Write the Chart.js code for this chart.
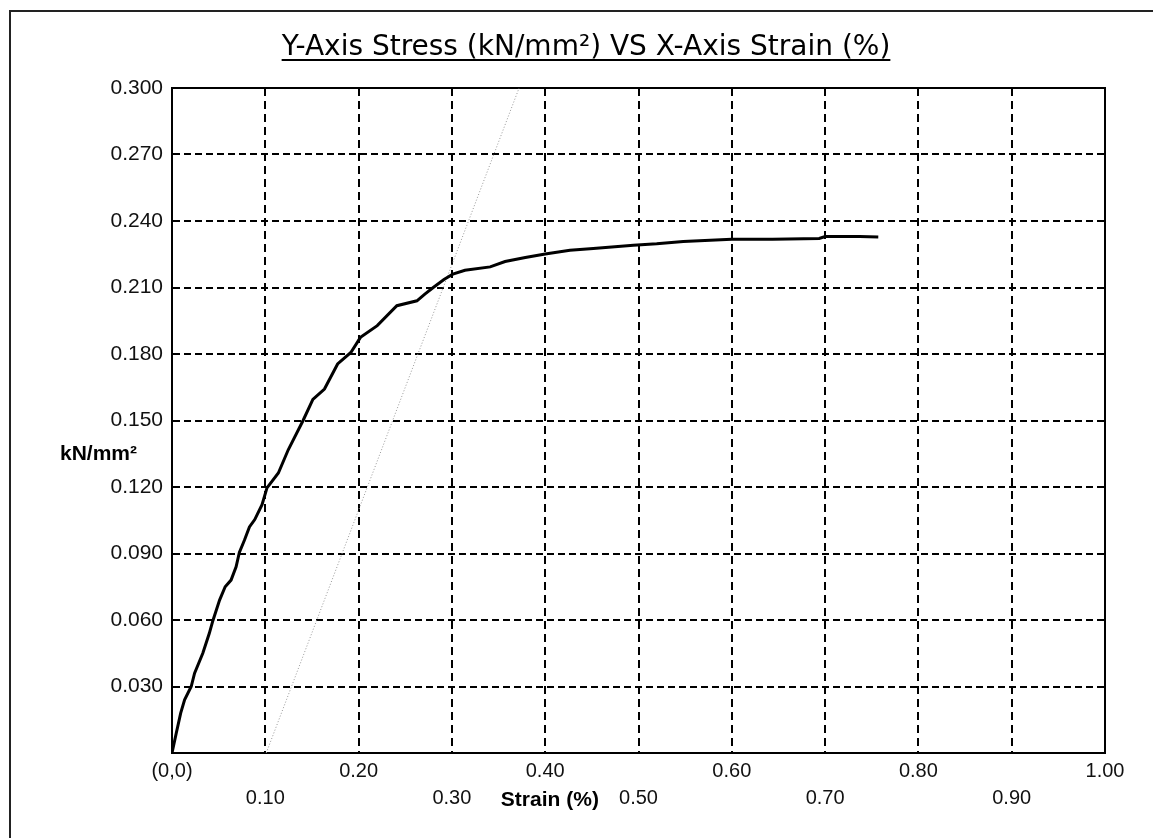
<!DOCTYPE html>
<html>
<head>
<meta charset="utf-8">
<script src="https://cdn.jsdelivr.net/npm/chart.js@4.4.1/dist/chart.umd.min.js"></script>
<style>
  html, body { margin: 0; padding: 0; background: #fff; }
  #wrap { width: 1153px; height: 838px; position: relative; }
</style>
</head>
<body>
<div id="wrap"><canvas id="c" width="1153" height="838"></canvas></div>
<script>
// ---- data ----
const strainX = [0, 0.0046, 0.0093, 0.0135, 0.0206, 0.0242, 0.033, 0.040, 0.0438, 0.051, 0.057, 0.0633, 0.0687, 0.0722, 0.0776, 0.083, 0.0887, 0.0918, 0.0965, 0.1018, 0.114, 0.1246, 0.1405, 0.151, 0.1634, 0.1775, 0.1917, 0.202, 0.220, 0.241, 0.2625, 0.271, 0.280, 0.2915, 0.301, 0.314, 0.341, 0.357, 0.3787, 0.40, 0.4265, 0.4515, 0.4945, 0.5195, 0.548, 0.60, 0.6436, 0.6937, 0.70, 0.737, 0.757];
const stressY = [0, 0.009, 0.018, 0.024, 0.030, 0.036, 0.045, 0.054, 0.0597, 0.069, 0.075, 0.078, 0.084, 0.0905, 0.096, 0.102, 0.1053, 0.108, 0.112, 0.1196, 0.1263, 0.1368, 0.150, 0.1595, 0.1642, 0.1755, 0.1807, 0.1875, 0.1928, 0.2018, 0.204, 0.207, 0.210, 0.2136, 0.216, 0.2178, 0.2193, 0.2217, 0.2235, 0.2251, 0.2268, 0.2276, 0.2291, 0.2297, 0.2308, 0.2318, 0.2318, 0.2321, 0.233, 0.233, 0.2328];
const offsetLineX = [0.101, 0.372];
const offsetLineY = [0, 0.300];
const xTickLabels = ['(0,0)', '0.10', '0.20', '0.30', '0.40', '0.50', '0.60', '0.70', '0.80', '0.90', '1.00'];
const yTickLabels = ['', '0.030', '0.060', '0.090', '0.120', '0.150', '0.180', '0.210', '0.240', '0.270', '0.300'];
const titleText = 'Y-Axis Stress (kN/mm\u00B2) VS X-Axis Strain (%)';
const yUnitText = 'kN/mm\u00B2';
const xUnitText = 'Strain (%)';

const mainPts = strainX.map((x, i) => ({ x: x, y: stressY[i] }));
const offsetPts = offsetLineX.map((x, i) => ({ x: x, y: offsetLineY[i] }));

const decor = {
  id: 'decor',
  beforeDraw(chart) {
    const ctx = chart.ctx;
    ctx.save();
    ctx.fillStyle = '#fff';
    ctx.fillRect(0, 0, chart.width, chart.height);
    // outer frame
    ctx.strokeStyle = '#222';
    ctx.lineWidth = 2;
    ctx.beginPath();
    ctx.moveTo(10, 848);
    ctx.lineTo(10, 11);
    ctx.lineTo(1160, 11);
    ctx.stroke();
    ctx.restore();
  },
  beforeDatasetsDraw(chart) {
    const a = chart.chartArea, ctx = chart.ctx;
    ctx.save();
    ctx.setLineDash([]);
    ctx.strokeStyle = '#000';
    ctx.lineWidth = 2;
    ctx.strokeRect(a.left, a.top, a.right - a.left, a.bottom - a.top);
    ctx.restore();
  },
  afterDraw(chart) {
    const ctx = chart.ctx;
    const xs = chart.scales.x, ys = chart.scales.y;
    ctx.save();
    ctx.fillStyle = '#000';
    // title with underline
    ctx.font = '28px "DejaVu Sans"';
    ctx.textAlign = 'center';
    ctx.textBaseline = 'alphabetic';
    const tx = 586, ty = 55;
    ctx.fillText(titleText, tx, ty);
    const w = ctx.measureText(titleText).width;
    ctx.strokeStyle = '#000';
    ctx.lineWidth = 2;
    ctx.beginPath();
    ctx.moveTo(tx - w / 2, 60);
    ctx.lineTo(tx + w / 2, 60);
    ctx.stroke();
    // y unit label
    ctx.font = 'bold 21px "Liberation Sans"';
    ctx.textAlign = 'right';
    ctx.textBaseline = 'middle';
    ctx.fillText(yUnitText, 137, ys.getPixelForValue(0.135));
    // x unit label
    ctx.textAlign = 'center';
    ctx.fillText(xUnitText, xs.getPixelForValue(0.405), 800);
    ctx.restore();
  }
};

new Chart(document.getElementById('c'), {
  type: 'line',
  data: {
    datasets: [
      {
        data: mainPts,
        borderColor: '#000',
        borderWidth: 3,
        pointRadius: 0,
        tension: 0,
        fill: false
      },
      {
        data: offsetPts,
        borderColor: '#999',
        borderWidth: 1,
        borderDash: [1, 2],
        pointRadius: 0,
        tension: 0,
        fill: false
      }
    ]
  },
  options: {
    responsive: false,
    animation: false,
    devicePixelRatio: 1,
    layout: { padding: { left: 0, right: 48, top: 88, bottom: 0 } },
    plugins: { legend: { display: false }, tooltip: { enabled: false }, title: { display: false } },
    scales: {
      x: {
        type: 'linear',
        min: 0, max: 1,
        afterFit(s) { s.height = 85; },
        afterBuildTicks(s) { s.ticks = xTickLabels.map((_, i) => ({ value: i / 10 })); },
        grid: { color: '#000', lineWidth: 2, drawTicks: false },
        border: { display: true, color: '#000', width: 2, dash: [8, 5] },
        ticks: {
          autoSkip: false, maxRotation: 0, padding: 5, color: '#111',
          font: { family: '"Liberation Sans"', size: 20, lineHeight: 1.35 },
          callback(v, i) { return i % 2 === 0 ? [xTickLabels[i], ''] : ['', xTickLabels[i]]; }
        }
      },
      y: {
        type: 'linear',
        min: 0, max: 0.3,
        afterFit(s) { s.width = 172; },
        afterBuildTicks(s) { s.ticks = yTickLabels.map((_, i) => ({ value: i * 0.03 })); },
        grid: { color: '#000', lineWidth: 2, drawTicks: false },
        border: { display: true, color: '#000', width: 2, dash: [7, 4] },
        ticks: {
          autoSkip: false, padding: 9, color: '#111',
          font: { family: '"Liberation Sans"', size: 21 },
          callback(v, i) { return yTickLabels[i]; }
        }
      }
    }
  },
  plugins: [decor]
});
</script>
</body>
</html>
